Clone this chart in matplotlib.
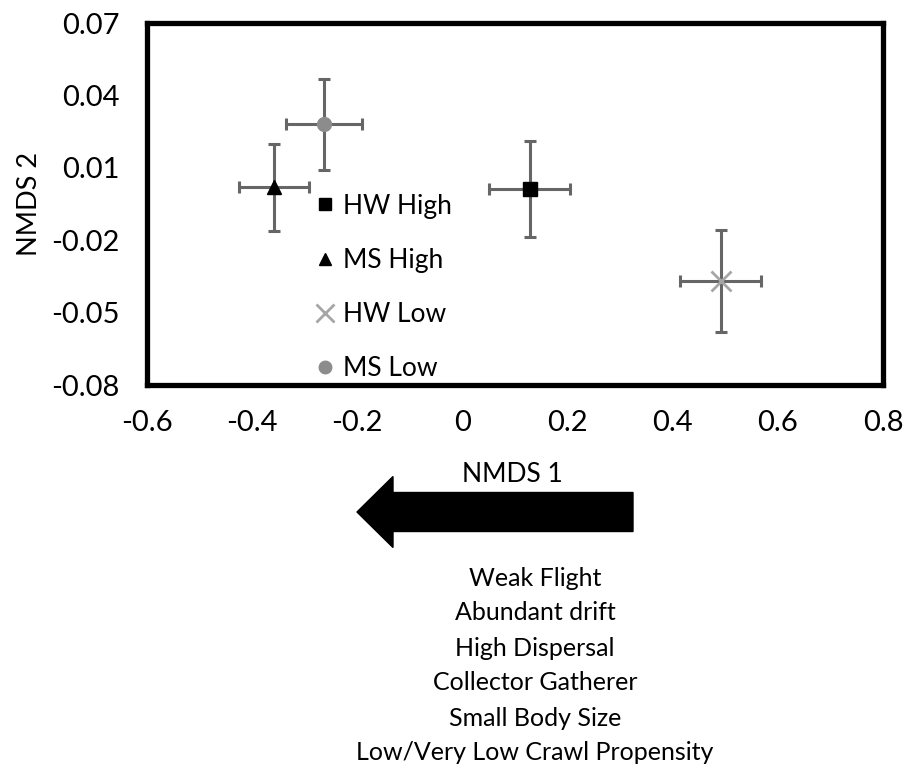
import matplotlib
matplotlib.use("Agg")
import matplotlib.pyplot as plt
from matplotlib.lines import Line2D
from matplotlib.patches import FancyArrow
from matplotlib.transforms import Affine2D

plt.rcParams['font.family'] = ['Lato', 'DejaVu Sans']

# NMDS group means with standard errors
groups = ['HW High', 'MS High', 'HW Low', 'MS Low']
nmds1 = [0.128, -0.358, 0.491, -0.263]
nmds2 = [0.0012, 0.002, -0.0369, 0.028]
err1 = [0.077, 0.067, 0.077, 0.072]
err2 = [0.020, 0.018, 0.021, 0.019]

markers = ['s', '^', 'x', 'o']
colors = ['black', 'black', '#a6a6a6', '#8c8c8c']
sizes = [10, 10, 14, 10]

xticks = [-0.6, -0.4, -0.2, 0, 0.2, 0.4, 0.6, 0.8]
yticks = [-0.08, -0.05, -0.02, 0.01, 0.04, 0.07]

traits = ['Weak Flight', 'Abundant drift', 'High Dispersal',
          'Collector Gatherer', 'Small Body Size',
          'Low/Very Low Crawl Propensity']

fig = plt.figure(figsize=(9.05, 7.73), dpi=100)
ax = fig.add_axes([147/905, 1-385/773, (883-147)/905, (385-23)/773])

for i in range(len(groups)):
    ax.errorbar(nmds1[i], nmds2[i], xerr=err1[i], yerr=err2[i],
                fmt='none', ecolor='#666666', elinewidth=2.2,
                capsize=4.5, capthick=2.2, zorder=2)
    ax.plot(nmds1[i], nmds2[i], marker=markers[i], color=colors[i],
            markersize=sizes[i], markeredgewidth=2 if markers[i] == 'x' else 1,
            linestyle='none', zorder=3)

ax.set_xlim(-0.6, 0.8)
ax.set_ylim(-0.08, 0.07)
ax.set_xticks(xticks)
ax.set_xticklabels(['0' if t == 0 else '%g' % t for t in xticks])
ax.set_yticks(yticks)
ax.set_yticklabels(['%.2f' % t for t in yticks])
ax.tick_params(length=0, labelsize=21)
ax.tick_params(axis='x', pad=18)
ax.tick_params(axis='y', pad=20)
for s in ax.spines.values():
    s.set_linewidth(3.8)
    s.set_color('black')

ax.set_ylabel('NMDS 2', fontsize=19.5, labelpad=6)

handles = [Line2D([], [], marker=markers[i], color=colors[i], linestyle='none',
                  markersize=sizes[i] - 1,
                  markeredgewidth=2 if markers[i] == 'x' else 1)
           for i in range(len(groups))]
ax.legend(handles, groups, loc='upper left', bbox_to_anchor=(0.197, 0.594),
          frameon=False, fontsize=19, labelspacing=1.1,
          handlelength=0.7, handletextpad=0.35)

fig.text(512/905, 1-475/773, 'NMDS 1', fontsize=19, ha='center', va='center')

# arrow drawn in pixel coordinates (origin bottom-left)
px = Affine2D().scale(1/100) + fig.dpi_scale_trans
arrow = FancyArrow(633, 773-512, -276, 0, width=39, head_width=71,
                   head_length=36, length_includes_head=True,
                   color='black', transform=px)
fig.patches.append(arrow)

for k, line in enumerate(traits):
    fig.text(535/905, 1-(578+35*k)/773, line, fontsize=18,
             ha='center', va='center')

fig.savefig('out.png', dpi=100, facecolor='white')
